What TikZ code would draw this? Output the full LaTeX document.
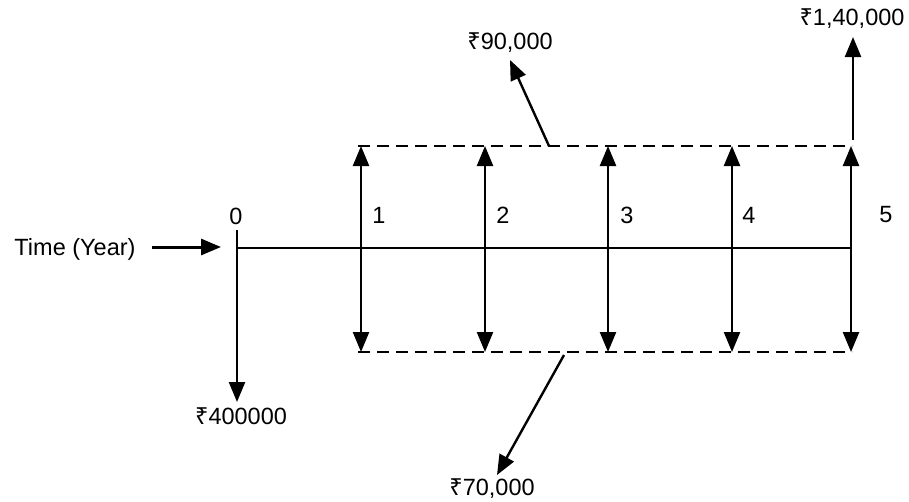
\documentclass[tikz,border=0pt]{standalone}
\usepackage{fontspec}
\setmainfont{Liberation Sans}
\newfontfamily\rsfont{Noto Sans}
\newcommand\rupee{{\rsfont ₹}}
\usetikzlibrary{arrows.meta}
\begin{document}
\begin{tikzpicture}[x=1pt,y=-1pt,
  lbl/.style={font=\fontsize{23.5}{27}\selectfont, inner sep=0pt},
  tip/.tip={Triangle[length=20pt,width=16pt]},
  flow/.style={line width=2.4pt,-tip},
  both/.style={line width=2.4pt,tip-tip},
  dline/.style={line width=2.4pt, dash pattern=on 12pt off 7pt},
  axis/.style={line width=1.8pt}]
\useasboundingbox (0,0) rectangle (909,501);
% time axis
\coordinate (t0) at (237,248);
\coordinate (t5) at (851,248);
\coordinate (t0top) at (237,230);
\coordinate (t0bot) at (237,402);
\draw[axis] (t0) -- (t5);
\draw[flow] (t0top) -- (t0bot);
\node[lbl] (time) at (75,249) {Time (Year)};
\coordinate (ta) at (152,247);
\coordinate (tb) at (221,247);
\draw[flow, line width=3pt] (ta) -- (tb);
\node[lbl] (n0) at (236,216) {0};
\node[lbl] (out0) at (241,416) {\rupee400000};
% dashed band
\coordinate (ul) at (358,146); \coordinate (ur) at (852,146);
\coordinate (ll) at (358,352); \coordinate (lr) at (852,352);
\draw[dline] (ul) -- (ur);
\draw[dline] (ll) -- (lr);
% double arrows
\foreach \x/\n/\lx in {361/1/379, 485/2/503, 608/3/627, 732/4/749, 851/5/886}{
  \coordinate (a\n) at (\x,146);
  \coordinate (b\n) at (\x,352);
  \draw[both] (a\n) -- (b\n);
  \node[lbl] (y\n) at (\lx,215) {\n};
}
% inflows / outflows
\node[lbl] (in90) at (510,43) {\rupee90,000};
\coordinate (s90) at (549,146);
\coordinate (e90) at (510,60);
\draw[flow] (s90) -- (e90);
\node[lbl] (in140) at (852,19) {\rupee1,40,000};
\coordinate (s140) at (853,140);
\coordinate (e140) at (853,37);
\draw[flow] (s140) -- (e140);
\node[lbl] (out70) at (492,489) {\rupee70,000};
\coordinate (s70) at (564,355);
\coordinate (e70) at (497,475);
\draw[flow] (s70) -- (e70);
\end{tikzpicture}
\end{document}
